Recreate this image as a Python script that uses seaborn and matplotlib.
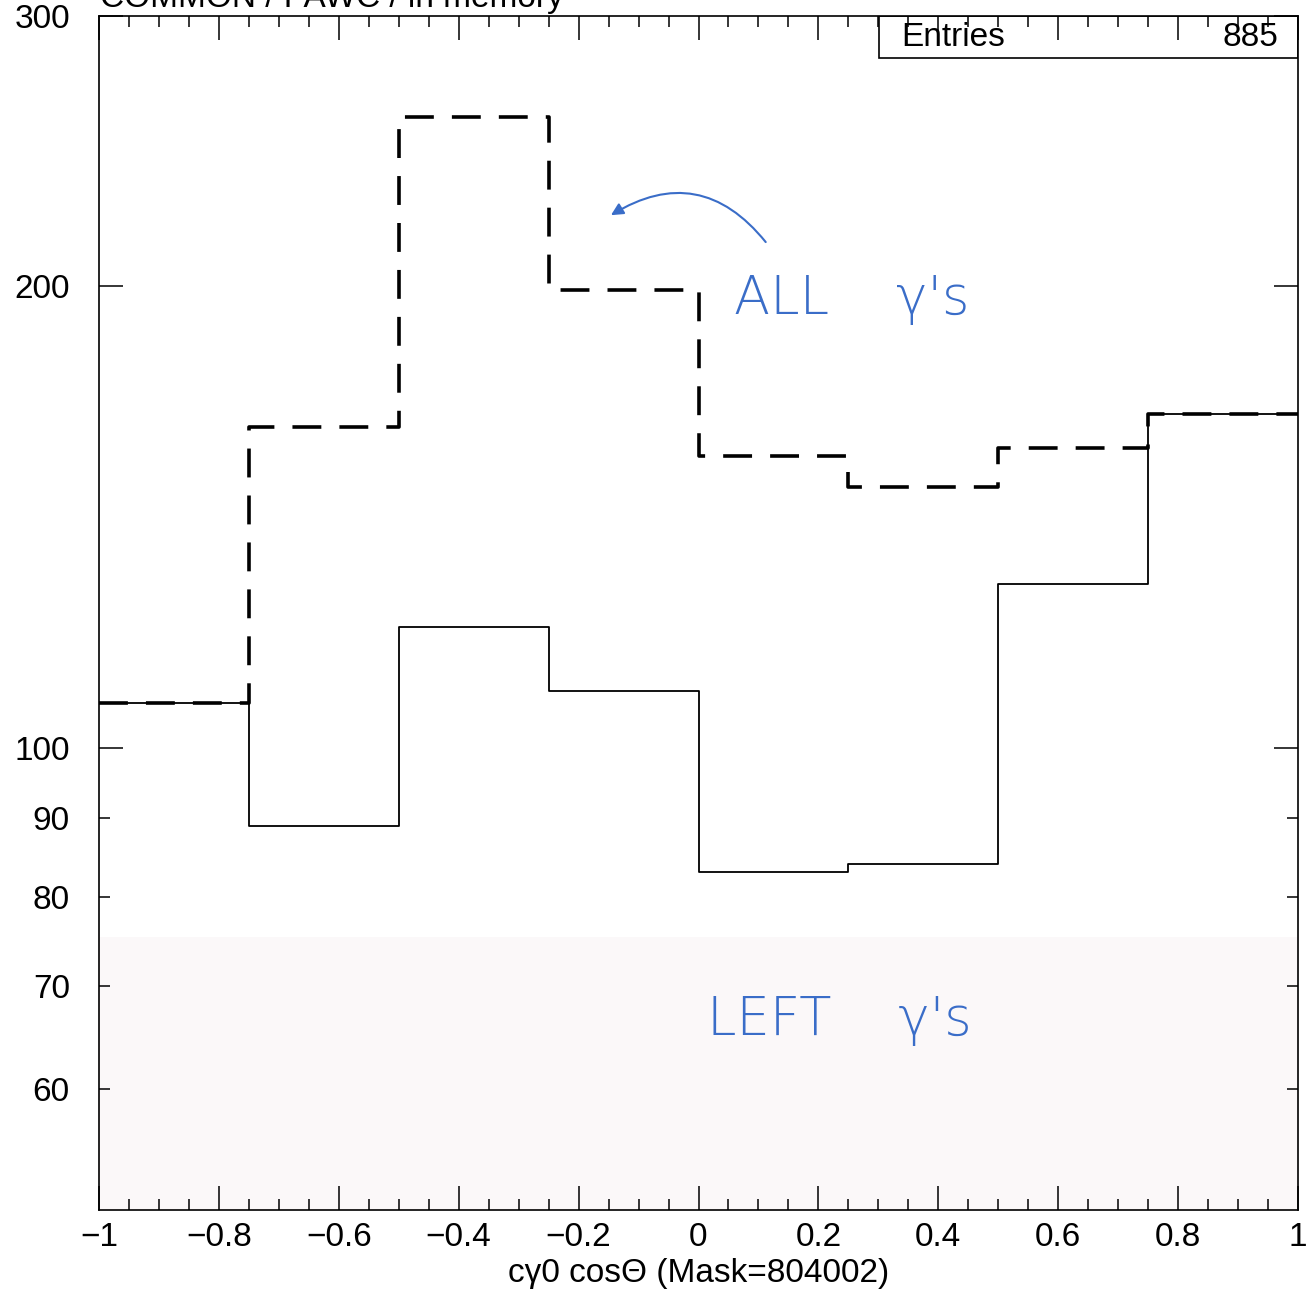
import numpy as np
import pandas as pd
import matplotlib
matplotlib.use("Agg")
import matplotlib.pyplot as plt
import matplotlib.ticker as mticker
import seaborn as sns

sns.set_style("ticks")
plt.rcParams["font.family"] = ["Liberation Sans", "DejaVu Sans"]
plt.rcParams["text.color"] = "black"
plt.rcParams["axes.labelcolor"] = "black"
plt.rcParams["xtick.color"] = "black"
plt.rcParams["ytick.color"] = "black"

# === data ===
bin_edges = [-1.0, -0.75, -0.5, -0.25, 0.0, 0.25, 0.5, 0.75, 1.0]
bin_centers = [-0.875, -0.625, -0.375, -0.125, 0.125, 0.375, 0.625, 0.875]
left_counts = [107, 89, 120, 109, 83, 84, 128, 165]   # printed histogram, 885 entries
all_counts = [107, 162, 258, 199, 155, 148, 157, 165]  # hand-drawn dashed curve
y_major = [100, 200, 300]
y_minor = [60, 70, 80, 90]
x_ticks = [-1, -0.8, -0.6, -0.4, -0.2, 0, 0.2, 0.4, 0.6, 0.8, 1]
x_ticklabels = ["\u22121", "\u22120.8", "\u22120.6", "\u22120.4", "\u22120.2", "0",
                "0.2", "0.4", "0.6", "0.8", "1"]

df = pd.DataFrame({"x": bin_centers, "left": left_counts, "all": all_counts})

fig = plt.figure(figsize=(13.06, 13.0), dpi=100)
ax = fig.add_axes([99 / 1306, 1 - 1210 / 1300, 1199 / 1306, 1194 / 1300])

# faint tint of the scanned page at the bottom
ax.axhspan(50, 75.3, color="#fbf8f9", zorder=0, lw=0)

sns.histplot(data=df, x="x", weights="left", bins=bin_edges, element="step",
             fill=False, color="black", linewidth=1.3, ax=ax)
sns.histplot(data=df, x="x", weights="all", bins=bin_edges, element="step",
             fill=False, color="black", linewidth=2.6, dashes=(8, 5), ax=ax)

ax.set_yscale("log")
ax.set_xlim(-1, 1)
ax.set_ylim(50, 300)

ax.yaxis.set_major_locator(mticker.FixedLocator(y_major))
ax.yaxis.set_major_formatter(mticker.FixedFormatter([str(v) for v in y_major]))
ax.yaxis.set_minor_locator(mticker.FixedLocator(y_minor))
ax.yaxis.set_minor_formatter(mticker.FixedFormatter([str(v) for v in y_minor]))

ax.set_xticks(x_ticks)
ax.set_xticklabels(x_ticklabels)
ax.xaxis.set_minor_locator(mticker.MultipleLocator(0.05))

ax.tick_params(which="both", direction="in", top=True, right=True,
               labelsize=24, width=1.1, color="black", labelcolor="black")
ax.tick_params(axis="y", which="both", pad=21)
ax.tick_params(axis="x", which="both", pad=9)
ax.tick_params(which="major", length=17)
ax.tick_params(which="minor", length=8)

for s in ax.spines.values():
    s.set_linewidth(1.2)
    s.set_color("black")

ax.set_xlabel("c\u03b30 cos\u0398 (Mask=804002)", fontsize=24, labelpad=3)
ax.set_ylabel("")

# statistics box
ax.add_patch(plt.Rectangle((879 / 1306, 1 - 58 / 1300), 419 / 1306, 42 / 1300,
                           transform=fig.transFigure, fill=False, lw=1.2,
                           edgecolor="black", zorder=5))
fig.text(901 / 1306, 1 - 38 / 1300, "Entries", fontsize=24, va="center", ha="left")
fig.text(1278 / 1306, 1 - 38 / 1300, "885", fontsize=24, va="center", ha="right")

# clipped PAW header
fig.text(100 / 1306, 1 - 7 / 1300, "COMMON / PAWC / in memory", fontsize=24,
         va="baseline", ha="left")

# handwritten notes
blue = "#3a6dc8"
ax.text(0.06, 196, "ALL    \u03b3's", fontsize=38, color=blue, ha="left", va="center",
        family="DejaVu Sans", fontweight="light")
ax.text(0.015, 66.5, "LEFT    \u03b3's", fontsize=38, color=blue, ha="left", va="center",
        family="DejaVu Sans", fontweight="light")
ax.annotate("", xy=(-0.15, 222), xytext=(0.115, 213),
            arrowprops=dict(arrowstyle="-|>", color=blue, lw=1.5,
                            connectionstyle="arc3,rad=0.45", mutation_scale=18))

fig.savefig("out.png", dpi=100)
